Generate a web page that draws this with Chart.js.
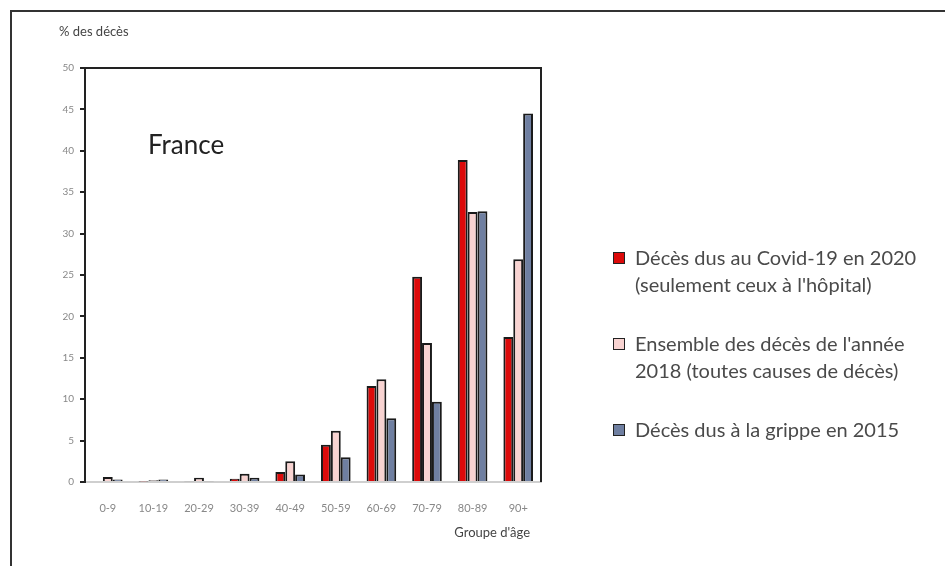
<!DOCTYPE html>
<html>
<head>
<meta charset="utf-8">
<script src="https://cdn.jsdelivr.net/npm/chart.js@4/dist/chart.umd.min.js"></script>
<style>
  html, body { margin: 0; padding: 0; background: #fff; }
  #wrap { position: relative; width: 945px; height: 566px; }
  #chart { position: absolute; left: 0; top: 0; }
  #legend { position: absolute; left: 613px; top: 244px; font-family: Lato, "Open Sans", sans-serif; font-size: 20px; color: #4a4a4a; }
  .item { position: relative; padding-left: 22px; line-height: 27px; margin-bottom: 32px; white-space: nowrap; }
  .box { position: absolute; left: 0; top: 8px; width: 10px; height: 10px; border: 1px solid #222; }
</style>
</head>
<body>
<div id="wrap">
  <canvas id="chart" width="945" height="566"></canvas>
  <div id="legend"></div>
</div>
<script>
// age groups
var ageGroups = ['0-9', '10-19', '20-29', '30-39', '40-49', '50-59', '60-69', '70-79', '80-89', '90+'];

// % of deaths per age group
var covid2020 = [0.0, 0.05, 0.1, 0.4, 1.2, 4.5, 11.6, 24.8, 38.9, 17.5];
var all2018 = [0.6, 0.2, 0.5, 1.0, 2.5, 6.2, 12.4, 16.8, 32.6, 26.9];
var flu2015 = [0.3, 0.3, 0.1, 0.5, 0.9, 3.0, 7.7, 9.7, 32.7, 44.5];

var seriesNames = [
  ['Décès dus au Covid-19 en 2020', '(seulement ceux à l\'hôpital)'],
  ['Ensemble des décès de l\'année', '2018 (toutes causes de décès)'],
  ['Décès dus à la grippe en 2015']
];
var seriesColors = ['#dc0a0a', '#f8d3d1', '#6f7fa1'];

var yTicks = [0, 5, 10, 15, 20, 25, 30, 35, 40, 45, 50];

// plot frame, extra texts
var framePlugin = {
  id: 'framePlugin',
  afterDraw: function (chart) {
    var ctx = chart.ctx;
    var a = chart.chartArea;
    ctx.save();
    // outer frame (top + left)
    ctx.strokeStyle = '#333';
    ctx.lineWidth = 2;
    ctx.beginPath();
    ctx.moveTo(11, 566);
    ctx.lineTo(11, 11);
    ctx.lineTo(945, 11);
    ctx.stroke();
    // plot box top + right
    ctx.strokeStyle = '#222';
    ctx.lineWidth = 2;
    ctx.beginPath();
    ctx.moveTo(a.left, a.top);
    ctx.lineTo(a.right, a.top);
    ctx.lineTo(a.right, a.bottom);
    ctx.stroke();
    ctx.fillStyle = '#444';
    ctx.textBaseline = 'middle';
    ctx.font = '13px Lato, "Open Sans", sans-serif';
    ctx.fillText('% des décès', 59, 32);
    ctx.textAlign = 'right';
    ctx.fillText('Groupe d\'âge', 530, 533);
    ctx.textAlign = 'left';
    ctx.fillStyle = '#222';
    ctx.font = '26px Lato, "Open Sans", sans-serif';
    ctx.fillText('France', 148, 146);
    ctx.restore();
  }
};

var datasets = [covid2020, all2018, flu2015].map(function (vals, i) {
  return {
    label: seriesNames[i].join(' '),
    data: vals,
    backgroundColor: seriesColors[i],
    borderColor: '#1a1a1a',
    borderWidth: 2,
    categoryPercentage: 0.65,
    barPercentage: 1.0
  };
});

new Chart(document.getElementById('chart'), {
  type: 'bar',
  data: { labels: ageGroups, datasets: datasets },
  options: {
    responsive: false,
    animation: false,
    layout: { padding: { left: 0, right: 404, top: 68, bottom: 0 } },
    plugins: { legend: { display: false }, tooltip: { enabled: false } },
    scales: {
      x: {
        grid: { display: false },
        border: { display: true, color: '#cfcfcf', width: 2 },
        ticks: { color: '#888', font: { size: 11, family: 'Lato' }, padding: 12, maxRotation: 0 },
        afterFit: function (s) { s.height = 84; }
      },
      y: {
        min: 0,
        max: 50,
        afterBuildTicks: function (s) { s.ticks = yTicks.map(function (v) { return { value: v }; }); },
        grid: { drawOnChartArea: false, drawTicks: true, tickLength: 5, color: '#222', lineWidth: 2 },
        border: { display: true, color: '#222', width: 2 },
        ticks: { color: '#888', font: { size: 10, family: 'Lato' }, padding: 6 },
        afterFit: function (s) { s.width = 85; }
      }
    }
  },
  plugins: [framePlugin]
});

// legend built from the series arrays
var legend = document.getElementById('legend');
seriesNames.forEach(function (lines, i) {
  var item = document.createElement('div');
  item.className = 'item';
  var box = document.createElement('span');
  box.className = 'box';
  box.style.background = seriesColors[i];
  item.appendChild(box);
  item.appendChild(document.createTextNode(lines[0]));
  for (var k = 1; k < lines.length; k++) {
    item.appendChild(document.createElement('br'));
    item.appendChild(document.createTextNode(lines[k]));
  }
  legend.appendChild(item);
});
</script>
</body>
</html>
